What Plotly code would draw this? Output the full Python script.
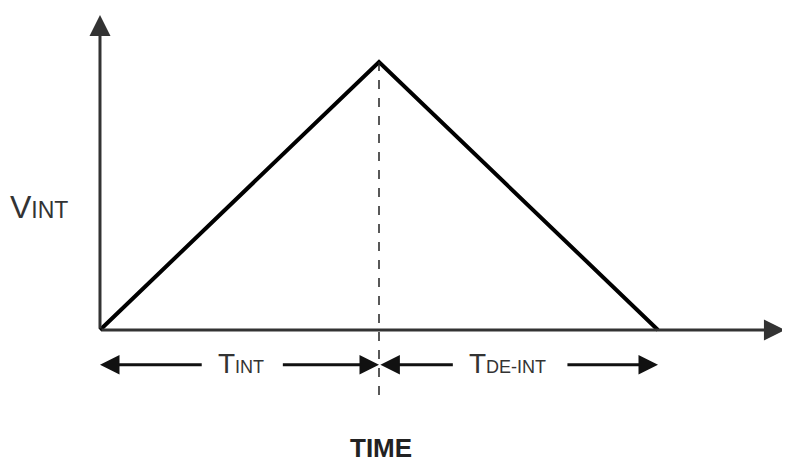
import plotly.graph_objects as go

# Data: integrator voltage ramp (normalized)
time = [0.0, 1.0, 2.0]          # start, end of T_INT, end of T_DE-INT
v_int = [0.0, 1.0, 0.0]         # integrator output
y_label = "V<span style='font-size:23px'>INT</span>"
x_label = "<b>TIME</b>"
phase_labels = ["T<span style='font-size:18px'>INT</span>",
                "T<span style='font-size:18px'>DE-INT</span>"]

fig = go.Figure()
fig.add_trace(go.Scatter(x=time, y=v_int, mode="lines",
                         line=dict(color="black", width=4), hoverinfo="skip"))

x_tip = 2.455
y_tip = 1.175
dim_y = -0.13

anns = []
def arrow(x0, y0, x1, y1, width=3, size=1.3, color="#222"):
    anns.append(dict(x=x1, y=y1, ax=x0, ay=y0, xref="x", yref="y", axref="x", ayref="y",
                     text="", showarrow=True, arrowhead=2, arrowsize=size,
                     arrowwidth=width, arrowcolor=color))

# axes
arrow(time[0], 0, time[0], y_tip, width=3, size=1.4, color="#333")
arrow(time[0], 0, x_tip, 0, width=3, size=1.4, color="#333")

# dimension arrows
t0, t1, t2 = time
arrow(t0 + 0.37, dim_y, t0, dim_y, width=3, size=1.3, color="#111")
arrow(t1 - 0.35, dim_y, t1, dim_y, width=3, size=1.3, color="#111")
arrow(t1 + 0.27, dim_y, t1 + 0.005, dim_y, width=3, size=1.3, color="#111")
arrow(t2 - 0.33, dim_y, t2, dim_y, width=3, size=1.3, color="#111")

fam = "Liberation Sans, Arial, sans-serif"
font = dict(family=fam, size=28, color="#333")
anns.append(dict(x=0.504, y=-0.125, xref="x", yref="y", text=phase_labels[0],
                 showarrow=False, font=font))
anns.append(dict(x=1.462, y=-0.125, xref="x", yref="y", text=phase_labels[1],
                 showarrow=False, font=font))
anns.append(dict(x=-0.22, y=0.46, xref="x", yref="y", text=y_label,
                 showarrow=False, font=dict(family=fam, size=32, color="#333")))
anns.append(dict(x=1.007, y=-0.44, xref="x", yref="y", text=x_label,
                 showarrow=False, font=dict(family=fam, size=26, color="#222")))

fig.add_shape(type="line", x0=t1, x1=t1, y0=v_int[1], y1=-0.26, xref="x", yref="y",
              line=dict(color="#222", width=1.5, dash="dash"))

fig.update_layout(
    width=782, height=456, margin=dict(l=0, r=0, t=0, b=0),
    paper_bgcolor="white", plot_bgcolor="white", showlegend=False,
    xaxis=dict(range=[-0.3297, 2.4731], visible=False),
    yaxis=dict(range=[-0.5, 1.2015], visible=False),
    annotations=anns,
)
fig.write_html("out.html")
